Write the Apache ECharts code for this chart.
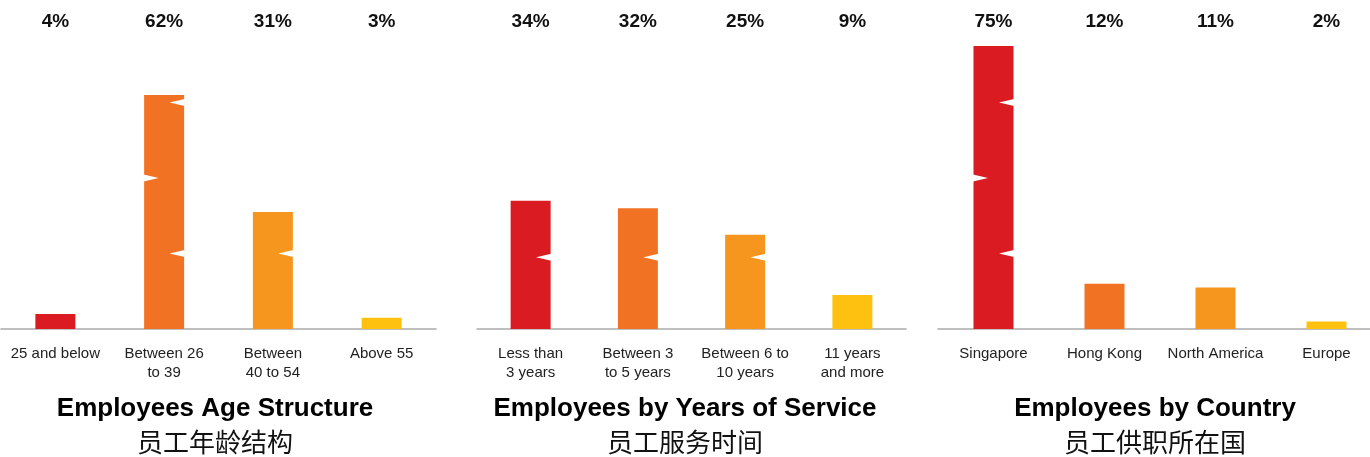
<!DOCTYPE html>
<html>
<head>
<meta charset="utf-8">
<script src="https://cdn.jsdelivr.net/npm/echarts@6/dist/echarts.min.js"></script>
<style>
  html, body { margin: 0; padding: 0; background: #fff; }
  #chart { width: 1370px; height: 457px; }
</style>
</head>
<body>
<div id="chart"></div>
<script>
// Workforce profile: three small bar charts sharing one percentage scale
const ageCategories = ['25 and below', 'Between 26\nto 39', 'Between\n40 to 54', 'Above 55'];
const ageValues = [4, 62, 31, 3];

const serviceCategories = ['Less than\n3 years', 'Between 3\nto 5 years', 'Between 6 to\n10 years', '11 years\nand more'];
const serviceValues = [34, 32, 25, 9];

const countryCategories = ['Singapore', 'Hong Kong', 'North America', 'Europe'];
const countryValues = [75, 12, 11, 2];

const titlesEn = ['Employees Age Structure', 'Employees by Years of Service', 'Employees by Country'];
const titlesZh = ['员工年龄结构', '员工服务时间', '员工供职所在国'];

const barColors = ['#DA1B22', '#F27224', '#F6961F', '#FEC10F'];

// decorative notch levels cut into the bars (alternating right / left / right)
const ageNotchLevels = [20, 40, 60];
const serviceNotchLevels = [19, 38, 57];
const countryNotchLevels = [20, 40, 60];
const notchSides = ['right', 'left', 'right'];

const panels = [
  { cats: ageCategories, vals: ageValues, notches: ageNotchLevels, left: 1, width: 435, cx: 215 },
  { cats: serviceCategories, vals: serviceValues, notches: serviceNotchLevels, left: 477, width: 429, cx: 685 },
  { cats: countryCategories, vals: countryValues, notches: countryNotchLevels, left: 938, width: 444, cx: 1155 }
];

const FONT = '"Liberation Sans", Arial, Helvetica, sans-serif';
const BAR_W = 40;
const NOTCH_DEPTH = 15;
const NOTCH_HALF = 3.5;

const grid = [], xAxis = [], yAxis = [], series = [], graphic = [];

panels.forEach((p, i) => {
  grid.push({ left: p.left, width: p.width, top: 27, bottom: 128, outerBoundsMode: 'none', containLabel: false });

  xAxis.push({
    type: 'category', gridIndex: i, data: p.cats, position: 'bottom',
    axisLine: { show: true, lineStyle: { color: '#AAAAAA', width: 1.5 } },
    axisTick: { show: false },
    axisLabel: { interval: 0, margin: 15, fontFamily: FONT, fontSize: 15, lineHeight: 19, color: '#222' }
  });
  xAxis.push({
    type: 'category', gridIndex: i, data: p.vals.map(v => v + '%'), position: 'top',
    axisLine: { show: false }, axisTick: { show: false },
    axisLabel: { interval: 0, margin: -5, fontFamily: FONT, fontSize: 19, fontWeight: 'bold', lineHeight: 20, color: '#111' }
  });

  yAxis.push({ type: 'value', gridIndex: i, min: 0, max: 80, show: false, splitLine: { show: false } });

  series.push({
    type: 'bar', xAxisIndex: i * 2, yAxisIndex: i, barWidth: BAR_W,
    data: p.vals.map((v, k) => ({ value: v, itemStyle: { color: barColors[k] } })),
    silent: true, animation: false
  });

  // notch triangles for every bar that rises past a notch level
  const notchData = [];
  p.vals.forEach((v, k) => {
    p.notches.forEach((lvl, n) => {
      if (v > lvl + 1) notchData.push([k, lvl, n]);
    });
  });
  series.push({
    type: 'custom', xAxisIndex: i * 2, yAxisIndex: i, silent: true, animation: false, z: 5,
    data: notchData,
    renderItem: function (params, api) {
      const pt = api.coord([api.value(0), api.value(1)]);
      const side = notchSides[api.value(2)];
      const edge = side === 'right' ? pt[0] + BAR_W / 2 + 0.5 : pt[0] - BAR_W / 2 - 0.5;
      const tip = side === 'right' ? edge - NOTCH_DEPTH : edge + NOTCH_DEPTH;
      return {
        type: 'polygon',
        shape: { points: [[edge, pt[1] - NOTCH_HALF], [tip, pt[1]], [edge, pt[1] + NOTCH_HALF]] },
        style: { fill: '#FFFFFF' }
      };
    }
  });

  graphic.push({
    type: 'text', x: p.cx, y: 409,
    style: { text: titlesEn[i], fill: '#000', font: 'bold 26px ' + FONT, textAlign: 'center', textVerticalAlign: 'middle' }
  });
  graphic.push({
    type: 'text', x: p.cx, y: 442,
    style: { text: titlesZh[i], fill: '#111', font: '26px "Noto Sans CJK SC", sans-serif', textAlign: 'center', textVerticalAlign: 'middle' }
  });
});

const chart = echarts.init(document.getElementById('chart'), null, { renderer: 'canvas' });
chart.setOption({ animation: false, grid, xAxis, yAxis, series, graphic });
</script>
</body>
</html>
